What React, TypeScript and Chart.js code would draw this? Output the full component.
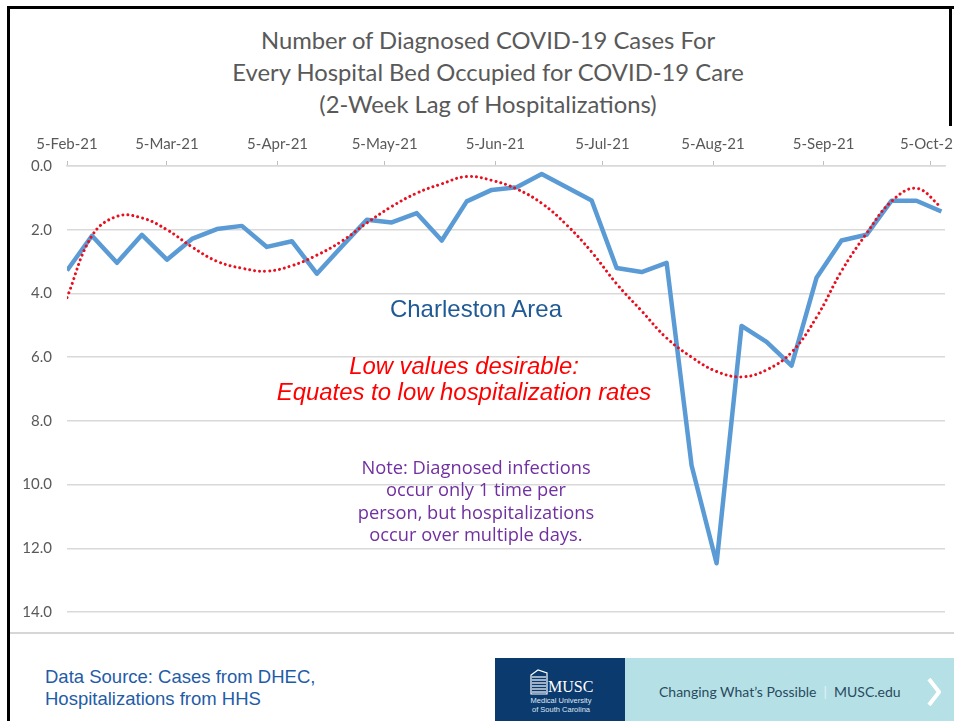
import React, { useEffect, useRef } from "react";
import { Chart, registerables } from "chart.js";

Chart.register(...registerables);

// Weekly dates of the data points
const weekDates = [
  "2021-02-05", "2021-02-12", "2021-02-19", "2021-02-26",
  "2021-03-05", "2021-03-12", "2021-03-19", "2021-03-26",
  "2021-04-02", "2021-04-09", "2021-04-16", "2021-04-23", "2021-04-30",
  "2021-05-07", "2021-05-14", "2021-05-21", "2021-05-28",
  "2021-06-04", "2021-06-11", "2021-06-18", "2021-06-25",
  "2021-07-02", "2021-07-09", "2021-07-16", "2021-07-23", "2021-07-30",
  "2021-08-06", "2021-08-13", "2021-08-20", "2021-08-27",
  "2021-09-03", "2021-09-10", "2021-09-17", "2021-09-24",
  "2021-10-01", "2021-10-08",
];

// Cases per occupied hospital bed (Charleston area)
const charlestonValues = [
  3.28, 2.19, 3.04, 2.16, 2.94, 2.29, 1.98, 1.88, 2.54, 2.36, 3.38, 2.53,
  1.69, 1.77, 1.48, 2.34, 1.11, 0.75, 0.67, 0.25, 0.67, 1.08, 3.2, 3.33,
  3.04, 9.4, 12.47, 5.02, 5.52, 6.27, 3.51, 2.34, 2.16, 1.09, 1.09, 1.43,
];

// Polynomial trend line, read at the same weekly dates
const trendValues = [
  4.13, 2.19, 1.58, 1.63, 2.0, 2.54, 2.99, 3.21, 3.3, 3.13, 2.8, 2.36,
  1.79, 1.27, 0.85, 0.56, 0.33, 0.45, 0.72, 1.17, 1.85, 2.7, 3.7, 4.55,
  5.4, 6.0, 6.45, 6.62, 6.4, 5.85, 4.75, 3.3, 2.12, 1.11, 0.7, 1.3,
];

// Top axis ticks
const tickDates = [
  "2021-02-05", "2021-03-05", "2021-04-05", "2021-05-05", "2021-06-05",
  "2021-07-05", "2021-08-05", "2021-09-05", "2021-10-05",
];
const tickLabels = [
  "5-Feb-21", "5-Mar-21", "5-Apr-21", "5-May-21", "5-Jun-21",
  "5-Jul-21", "5-Aug-21", "5-Sep-21", "5-Oct-21",
];
const axisEndDate = "2021-10-09";

const yMin = 0;
const yMax = 14;
const yStep = 2;

const titleLines = [
  "Number of Diagnosed COVID-19 Cases For",
  "Every Hospital Bed Occupied for COVID-19 Care",
  "(2-Week Lag of Hospitalizations)",
];
const areaLabel = "Charleston Area";
const desirableLines = ["Low values desirable:", "Equates to low hospitalization rates"];
const noteLines = [
  "Note: Diagnosed infections",
  "occur only 1 time per",
  "person, but hospitalizations",
  "occur over multiple days.",
];
const sourceLines = ["Data Source: Cases from DHEC,", "Hospitalizations from HHS"];

const DAY = 86400000;
const origin = Date.parse(weekDates[0]);
const dayOf = (d: string) => Math.round((Date.parse(d) - origin) / DAY);

export default function App() {
  const canvasRef = useRef<HTMLCanvasElement | null>(null);

  useEffect(() => {
    if (!canvasRef.current) return;
    const tickDays = tickDates.map(dayOf);
    const chart = new Chart(canvasRef.current, {
      type: "line",
      data: {
        datasets: [
          {
            label: "Trend",
            data: weekDates.map((d, i) => ({ x: dayOf(d), y: trendValues[i] })),
            borderColor: "#e8101f",
            borderWidth: 3,
            borderDash: [0.01, 5],
            borderCapStyle: "round",
            pointRadius: 0,
            tension: 0.4,
            fill: false,
            order: 0,
          },
          {
            label: "Charleston Area",
            data: weekDates.map((d, i) => ({ x: dayOf(d), y: charlestonValues[i] })),
            borderColor: "#5b9bd5",
            borderWidth: 4.5,
            borderJoinStyle: "round",
            pointRadius: 0,
            tension: 0,
            fill: false,
            order: 1,
          },
        ],
      },
      options: {
        responsive: false,
        animation: false,
        events: [],
        layout: { padding: { left: 0, right: 9, top: 0, bottom: 21 } },
        plugins: {
          legend: { display: false },
          title: { display: false },
          tooltip: { enabled: false },
        },
        scales: {
          x: {
            type: "linear",
            position: "top",
            min: 0,
            max: dayOf(axisEndDate),
            afterBuildTicks: (scale: any) => {
              scale.ticks = tickDays.map((v) => ({ value: v }));
            },
            afterFit: (scale: any) => {
              scale.height = 41;
              scale.paddingLeft = 0;
              scale.paddingRight = 0;
            },
            grid: {
              drawOnChartArea: false,
              drawTicks: true,
              tickLength: 5,
              color: "#bfbfbf",
              lineWidth: 1,
            },
            border: { display: true, color: "#d9d9d9", width: 1.5 },
            ticks: {
              autoSkip: false,
              maxRotation: 0,
              minRotation: 0,
              padding: 8,
              color: "#595959",
              font: { family: "Lato", size: 15 },
              callback: (v: any) => {
                const i = tickDays.indexOf(Number(v));
                return i >= 0 ? tickLabels[i] : "";
              },
            },
          },
          y: {
            reverse: true,
            min: yMin,
            max: yMax,
            afterFit: (scale: any) => {
              scale.width = 57;
              scale.paddingTop = 0;
              scale.paddingBottom = 0;
            },
            grid: { color: "#d9d9d9", lineWidth: 1.5, drawTicks: false },
            border: { display: false },
            ticks: {
              stepSize: yStep,
              padding: 15,
              color: "#595959",
              font: { family: "Lato", size: 15 },
              callback: (v: any) => Number(v).toFixed(1),
            },
          },
        },
      },
    } as any);
    return () => chart.destroy();
  }, []);

  const abs = (s: React.CSSProperties): React.CSSProperties => ({ position: "absolute", ...s });

  return (
    <div style={abs({ left: 0, top: 0, width: 954, height: 721, background: "#ffffff", overflow: "hidden" })}>
      {/* frame */}
      <div style={abs({ left: 7, top: 6, width: 947, height: 3, background: "#000" })} />
      <div style={abs({ left: 7, top: 6, width: 3, height: 715, background: "#000" })} />
      <div style={abs({ left: 949, top: 6, width: 3, height: 120, background: "#000" })} />

      {/* title */}
      <div
        style={abs({
          left: 22,
          top: 24,
          width: 932,
          textAlign: "center",
          fontFamily: "Lato, 'Open Sans', sans-serif",
          fontSize: 23.8,
          lineHeight: "32px",
          color: "#595959",
        })}
      >
        {titleLines.map((t) => (
          <div key={t}>{t}</div>
        ))}
      </div>

      {/* chart */}
      <div style={abs({ left: 10, top: 125, width: 944, height: 508 })}>
        <canvas ref={canvasRef} width={944} height={508} style={{ display: "block" }} />
      </div>

      {/* annotations */}
      <div
        style={abs({
          left: 276,
          top: 294,
          width: 400,
          textAlign: "center",
          fontFamily: "'Liberation Sans', Arial, sans-serif",
          fontSize: 24,
          lineHeight: "29px",
          color: "#1f5a96",
        })}
      >
        {areaLabel}
      </div>
      <div
        style={abs({
          left: 214,
          top: 353,
          width: 500,
          textAlign: "center",
          fontFamily: "'Liberation Sans', Arial, sans-serif",
          fontStyle: "italic",
          fontSize: 23.9,
          lineHeight: "26px",
          color: "#ff0000",
        })}
      >
        {desirableLines.map((t) => (
          <div key={t}>{t}</div>
        ))}
      </div>
      <div
        style={abs({
          left: 326,
          top: 456,
          width: 300,
          textAlign: "center",
          fontFamily: "'Comic Sans MS', 'Open Sans', sans-serif",
          fontSize: 18.3,
          lineHeight: "22.3px",
          color: "#7030a0",
        })}
      >
        {noteLines.map((t) => (
          <div key={t}>{t}</div>
        ))}
      </div>

      {/* separator */}
      <div style={abs({ left: 10, top: 632, width: 944, height: 2, background: "#d6d6d6" })} />

      {/* footer source */}
      <div
        style={abs({
          left: 45,
          top: 666,
          fontFamily: "'Liberation Sans', Arial, sans-serif",
          fontSize: 18.5,
          lineHeight: "22px",
          color: "#1f5ca8",
        })}
      >
        {sourceLines.map((t) => (
          <div key={t}>{t}</div>
        ))}
      </div>

      {/* MUSC banner */}
      <div style={abs({ left: 495, top: 658, width: 130, height: 63, background: "#0b3a6e" })}>
        <svg width="20" height="26" style={{ position: "absolute", left: 34, top: 11 }} viewBox="0 0 20 26">
          <path d="M2 25 L2 6 L9 1 L18 4 L18 25 Z" fill="none" stroke="#ffffff" strokeWidth="1.2" />
          {[8, 11, 14, 17, 20, 23].map((y) => (
            <line key={y} x1="3" y1={y} x2="17" y2={y} stroke="#ffffff" strokeWidth="1.2" />
          ))}
        </svg>
        <div
          style={abs({
            left: 53,
            top: 21,
            fontFamily: "'Liberation Serif', 'DejaVu Serif', serif",
            fontSize: 16,
            lineHeight: "16px",
            color: "#ffffff",
          })}
        >
          MUSC
        </div>
        <div
          style={abs({
            left: 30,
            top: 38,
            width: 72,
            textAlign: "center",
            fontFamily: "'Liberation Sans', Arial, sans-serif",
            fontSize: 7.5,
            lineHeight: "9px",
            color: "#dfe8f2",
          })}
        >
          <div>Medical University</div>
          <div>of South Carolina</div>
        </div>
      </div>
      <div style={abs({ left: 625, top: 658, width: 329, height: 63, background: "#b5e1e6" })}>
        <div
          style={abs({
            left: 34,
            top: 25,
            fontFamily: "Lato, 'Open Sans', sans-serif",
            fontSize: 14,
            lineHeight: "18px",
            color: "#2a4a5e",
            whiteSpace: "nowrap",
          })}
        >
          <span>Changing What’s Possible</span>
          <span style={{ color: "#e0f2f4", margin: "0 7px" }}>|</span>
          <span>MUSC.edu</span>
        </div>
        <svg width="14" height="28" style={{ position: "absolute", left: 302, top: 20 }} viewBox="0 0 14 28">
          <path d="M2 1 L12 14 L2 27" fill="none" stroke="#ffffff" strokeWidth="4" strokeLinejoin="miter" />
        </svg>
      </div>
    </div>
  );
}
